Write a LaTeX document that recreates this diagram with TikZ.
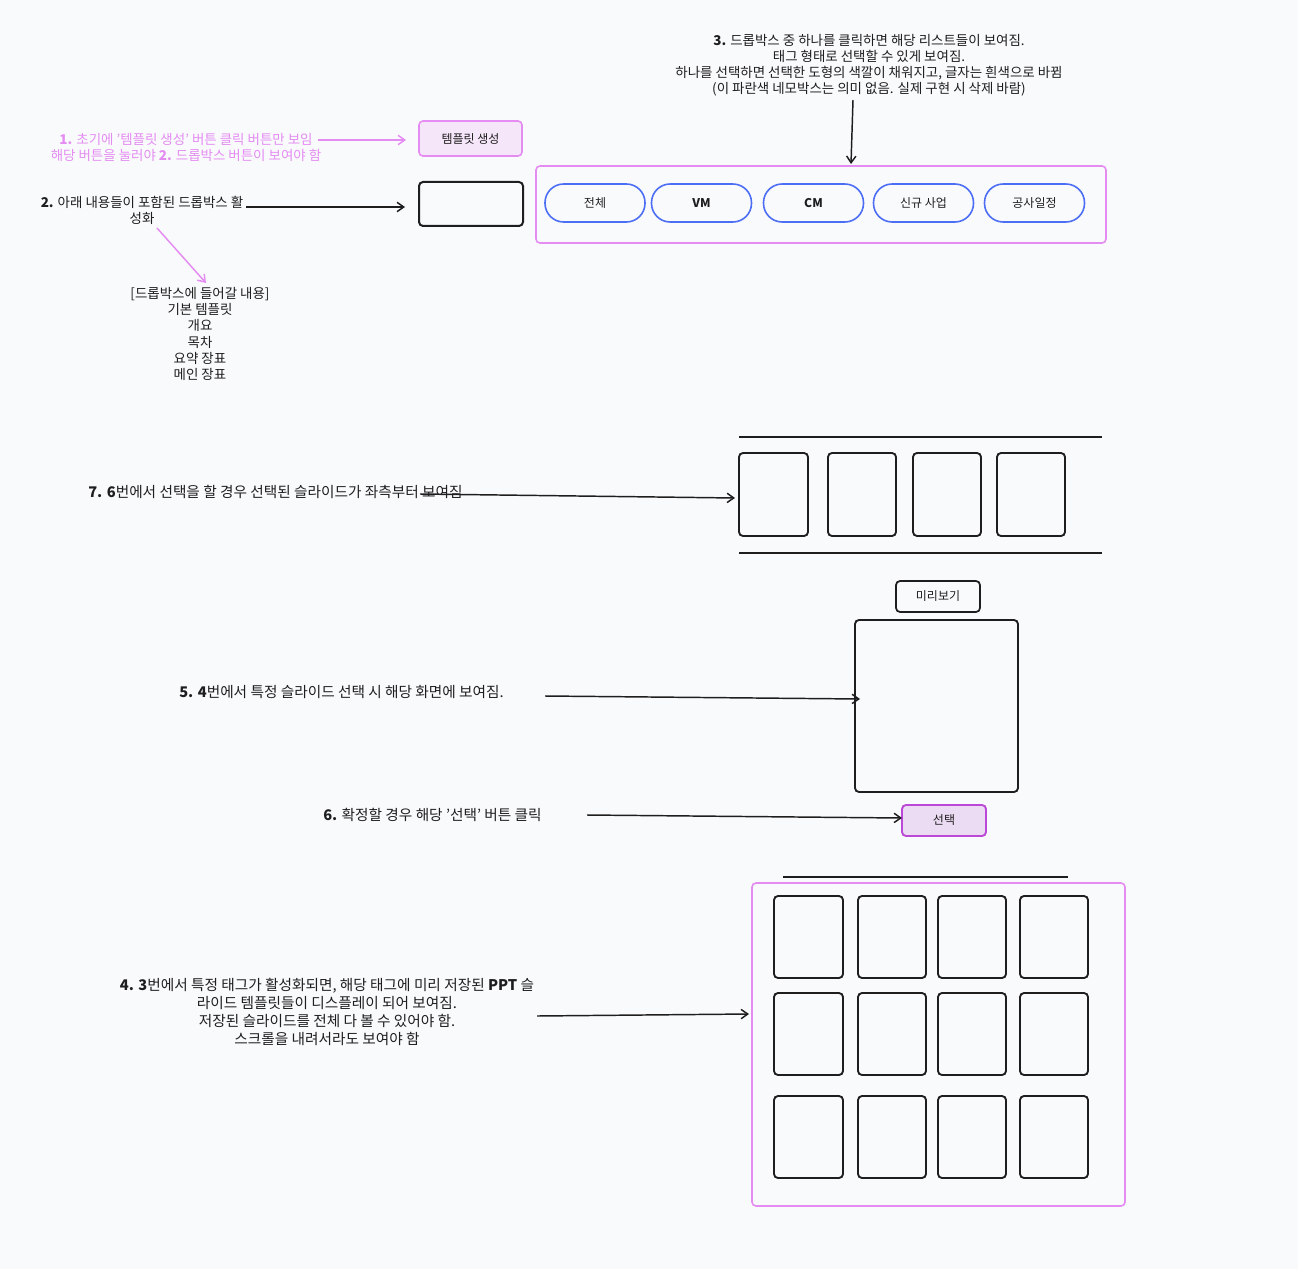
\documentclass[tikz,border=0pt]{standalone}
\usepackage{fontspec}
\setmainfont{Noto Sans CJK KR}
\usetikzlibrary{arrows.meta}
\definecolor{bg}{RGB}{249,250,252}
\definecolor{pinkc}{RGB}{228,140,242}
\definecolor{pinkfill}{RGB}{246,230,250}
\definecolor{purc}{RGB}{188,72,216}
\definecolor{purfill}{RGB}{236,220,243}
\definecolor{bluec}{RGB}{76,110,245}
\definecolor{ink}{RGB}{30,30,30}
\tikzset{
  wh/.style 2 args={minimum width=#1*0.75pt, minimum height=#2*0.75pt, inner sep=0pt, outer sep=0pt},
  txt/.style={font=\fontsize{10.1}{12}\selectfont, text=ink, align=center, inner sep=0pt},
  bigtxt/.style={txt, font=\fontsize{11}{13.5}\selectfont},
  ptxt/.style={txt, text=pinkc},
  btxt/.style={font=\fontsize{9}{10}\selectfont, text=ink},
  blackbox/.style={draw=ink, line width=1.5pt, rounded corners=3pt},
  slide/.style={draw=ink, line width=1.4pt, rounded corners=3pt, wh={#1}{83}},
  gslide/.style={draw=ink, line width=1.4pt, rounded corners=3pt, wh={#1}{82}},
  pinkbox/.style={draw=pinkc, line width=1.2pt, rounded corners=3pt},
  pill/.style={draw=bluec, line width=1.2pt, rounded corners=14pt, wh={100}{38}, btxt},
  arr/.style={draw=ink, line width=1.1pt, -{Straight Barb[length=5pt,width=7pt]}},
  parr/.style={draw=pinkc, line width=1.1pt, -{Straight Barb[length=5pt,width=7pt]}},
  rule/.style={draw=ink, line width=1.3pt},
}
\begin{document}
\begin{tikzpicture}[x=0.75pt,y=-0.75pt]
\fill[bg] (0,0) rectangle (1298,1269);
\useasboundingbox (0,0) rectangle (1298,1269);

% texts
\node[txt] (t3) at (869,65) {\textbf{3.} 드롭박스 중 하나를 클릭하면 해당 리스트들이 보여짐.\\태그 형태로 선택할 수 있게 보여짐.\\하나를 선택하면 선택한 도형의 색깔이 채워지고, 글자는 흰색으로 바뀜\\(이 파란색 네모박스는 의미 없음. 실제 구현 시 삭제 바람)};
\node[ptxt] (t1) at (186,147) {\textbf{1.} 초기에 '템플릿 생성' 버튼 클릭 버튼만 보임\\해당 버튼을 눌러야 \textbf{2.} 드롭박스 버튼이 보여야 함};
\node[txt] (t2) at (142,210) {\textbf{2.} 아래 내용들이 포함된 드롭박스 활\\성화};
\node[txt, font=\fontsize{10.1}{12.2}\selectfont] (tl) at (200,334) {[드롭박스에 들어갈 내용]\\기본 템플릿\\개요\\목차\\요약 장표\\메인 장표};
\node[bigtxt, anchor=west] (t7) at (88,492) {\textbf{7. 6}번에서 선택을 할 경우 선택된 슬라이드가 좌측부터 보여짐};
\node[bigtxt, anchor=west] (t5) at (179,692) {\textbf{5. 4}번에서 특정 슬라이드 선택 시 해당 화면에 보여짐.};
\node[bigtxt, anchor=west] (t6) at (323,815) {\textbf{6.} 확정할 경우 해당 '선택' 버튼 클릭};
\node[bigtxt] (t4) at (327,1012) {\textbf{4. 3}번에서 특정 태그가 활성화되면, 해당 태그에 미리 저장된 \textbf{PPT} 슬\\라이드 템플릿들이 디스플레이 되어 보여짐.\\저장된 슬라이드를 전체 다 볼 수 있어야 함.\\스크롤을 내려서라도 보여야 함};

% top buttons
\node[pinkbox, fill=pinkfill, wh={103}{35}, btxt] (tmpl) at (470.5,138.5) {템플릿 생성};
\node[blackbox, wh={104}{44}] (drop) at (471,204) {};

% tag container
\node[pinkbox, wh={570}{77}] (tags) at (821,204.5) {};
\node[pill] (p1) at (595,203) {전체};
\node[pill] (p2) at (701.5,203) {\textbf{VM}};
\node[pill] (p3) at (813.5,203) {\textbf{CM}};
\node[pill] (p4) at (923.5,203) {신규 사업};
\node[pill] (p5) at (1034.5,203) {공사일정};

% film strip
\draw[rule] (739,437) -- (1102,437);
\draw[rule] (739,553) -- (1102,553);
\node[slide=69] (s1) at (773.5,494.5) {};
\node[slide=68] (s2) at (862,494.5) {};
\node[slide=68] (s3) at (947,494.5) {};
\node[slide=68] (s4) at (1031,494.5) {};

% preview
\node[blackbox, line width=1.3pt, wh={84}{31}, btxt] (prevl) at (938,596.5) {미리보기};
\node[blackbox, line width=1.4pt, wh={163}{172}] (prev) at (936.5,706) {};
\node[draw=purc, line width=1.4pt, rounded corners=3pt, fill=purfill, wh={84}{31}, btxt] (sel) at (944,820.5) {선택};

% grid
\draw[rule] (783,877) -- (1068,877);
\node[pinkbox, wh={373}{323}] (grid) at (938.5,1044.5) {};
\foreach \r/\y in {1/937,2/1034,3/1137}{
  \node[gslide=69] (g\r a) at (808.5,\y) {};
  \node[gslide=68] (g\r b) at (892,\y) {};
  \node[gslide=68] (g\r c) at (972,\y) {};
  \node[gslide=68] (g\r d) at (1054,\y) {};
}

% connector ends
\coordinate (a1s) at (318,140); \coordinate (a1e) at (406,140);
\coordinate (a2s) at (246,207); \coordinate (a2e) at (405,207);
\coordinate (a2bs) at (157,228); \coordinate (a2be) at (206,283);
\coordinate (a3s) at (853,100); \coordinate (a3e) at (851,164);
\coordinate (a7s) at (420,494); \coordinate (a7e) at (735,498);
\coordinate (a5s) at (545,696); \coordinate (a5e) at (860,699);
\coordinate (a6s) at (587,815); \coordinate (a6e) at (902,818);
\coordinate (a4s) at (537,1016); \coordinate (a4e) at (749,1014);

\draw[parr] (a1s) -- (a1e);
\draw[arr] (a2s) -- (a2e);
\draw[parr] (a2bs) -- (a2be);
\draw[arr] (a3s) -- (a3e);
\draw[arr] (a7s) -- (a7e);
\draw[arr] (a5s) -- (a5e);
\draw[arr] (a6s) -- (a6e);
\draw[arr] (a4s) -- (a4e);
\end{tikzpicture}
\end{document}
